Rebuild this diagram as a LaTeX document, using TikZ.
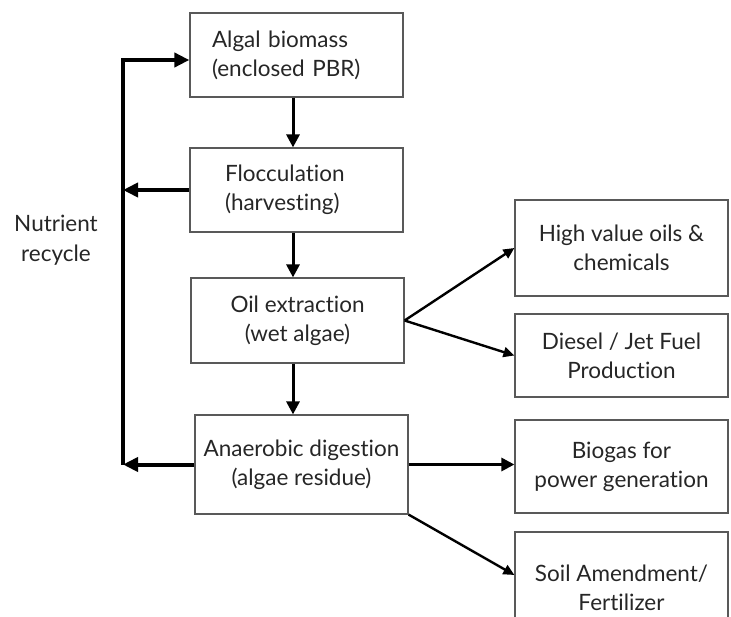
\documentclass[tikz,border=0pt]{standalone}
\usepackage{fontspec}
\setmainfont{Lato}[Ligatures=NoCommon]
\usetikzlibrary{arrows.meta}
\begin{document}
\begin{tikzpicture}[x=1pt,y=-1pt,
  box/.style={draw=black!65, line width=1.2pt, minimum width=213pt,
    align=center, inner sep=0pt, text=black!85,
    font=\fontsize{22.5}{29}\selectfont},
  label/.style={align=center, text=black!85, font=\fontsize{22.5}{30}\selectfont},
  flow/.style={line width=3pt, -{Triangle[length=13pt,width=13pt]}},
  loopline/.style={line width=4pt, line join=miter},
  looptip/.style={-{Triangle[length=15pt,width=14pt]}},
  fan/.style={line width=2.4pt, -{Triangle[length=11pt,width=10pt]}}]
\useasboundingbox (0,0) rectangle (731,616);
\clip (0,0) rectangle (731,616);

% process chain
\node[box, minimum height=84pt, text width=169pt, align=left, inner xsep=22pt]
  (b1) at (296.5,55) {Algal biomass\\(enclosed PBR)};
\node[box, minimum height=84pt, text width=143pt, align=left, inner xsep=35pt]
  (b2) at (296.5,190) {Flocculation\\(harvesting)};
\node[box, minimum height=85pt] (b3) at (297.5,320.5) {Oil extraction\\(wet algae)};
\node[box, minimum height=99pt] (b4) at (301.5,464.5) {Anaerobic digestion\\(algae residue)};

% products
\node[box, minimum height=96pt] (r1) at (621.5,248) {High value oils \&\\chemicals};
\node[box, minimum height=83pt] (r2) at (621.5,355.5) {Diesel / Jet Fuel\\Production};
\node[box, minimum height=93pt] (r3) at (621.5,466.5) {Biogas for\\power generation};
\node[box, minimum height=112pt] (r4) at (621.5,588) {Soil Amendment/\\Fertilizer};

\node[label] (nr) at (56,240) {Nutrient\\recycle};

% main flow
\draw[flow] ([xshift=-3.5pt]b1.south) -- ([xshift=-3.5pt]b1.south |- b2.north);
\draw[flow] ([xshift=-3.5pt]b2.south) -- ([xshift=-3.5pt]b2.south |- b3.north);
\draw[flow] ([xshift=-4.5pt]b3.south) -- ([xshift=-4.5pt]b3.south |- b4.north);

% nutrient recycle loop
\coordinate (lb) at (123,464.5);
\coordinate (lt) at (123,60);
\draw[loopline, looptip] (lb) -- (lt) -- (lt -| b1.west);
\draw[loopline, looptip] (b2.west) -- (b2.west -| lb);
\draw[loopline, looptip] (b4.west) -- (lb);

% product branches
\draw[fan] (b3.east) -- (r1.west);
\draw[fan] (b3.east) -- (r2.west);
\draw[flow] (b4.east) -- (b4.east -| r3.west);
\draw[fan] (b4.south east) -- ([yshift=13pt]r4.west);
\end{tikzpicture}
\end{document}
